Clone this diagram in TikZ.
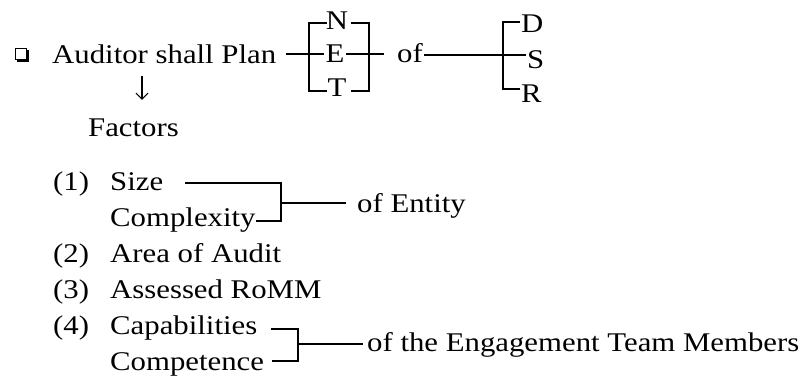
\documentclass[tikz,border=0pt]{standalone}
\usepackage{fontspec}
\setmainfont{Liberation Serif}[FakeStretch=1.14]
\usetikzlibrary{arrows.meta}
\begin{document}
\begin{tikzpicture}[x=1pt,y=-1pt,
  txt/.style={anchor=base west, inner sep=0pt, font=\fontsize{27}{32}\selectfont},
  ctxt/.style={anchor=base, inner sep=0pt, font=\fontsize{27}{32}\selectfont},
  ln/.style={line width=2.1pt, line cap=rect},
  darr/.style={line width=1.2pt, -{Straight Barb[length=6pt,width=12pt,line width=1.2pt]}}]
\useasboundingbox (0,0) rectangle (809,379);
% bullet box
\draw[line width=0.9pt] (15.5,48.5) rectangle (26,59.5);
\fill (26,50) rectangle (29,62.5);
\fill (17,59.5) rectangle (29,62.5);
% first line
\node[txt] (plan) at (52,64) {Auditor shall Plan};
\node[ctxt] (N) at (337,30) {N};
\node[ctxt] (E) at (335,63) {E};
\node[ctxt] (T) at (337,97) {T};
\node[txt] (of) at (397,63) {of};
\node[txt] (D) at (521,33) {D};
\node[txt] (S) at (527,69) {S};
\node[txt] (R) at (521,103) {R};
% NET brackets
\coordinate (l0) at (287,54);
\coordinate (lt1) at (326,23); \coordinate (lt2) at (309,23);
\coordinate (lb2) at (309,91); \coordinate (lb1) at (326,91);
\coordinate (rt1) at (352,23); \coordinate (rt2) at (369,23);
\coordinate (rb2) at (369,91); \coordinate (rb1) at (352,91);
\coordinate (r0) at (383,54);
\draw[ln] (lt1) -- (lt2) -- (lb2) -- (lb1);
\draw[ln] (rt1) -- (rt2) -- (rb2) -- (rb1);
\draw[ln] (l0) -- ([xshift=-2pt]E.west |- l0);
\draw[ln] ([xshift=2pt]E.east |- r0) -- (r0);
% DSR bracket
\coordinate (m0) at (425,55);
\coordinate (dt) at (503,22); \coordinate (db) at (503,89);
\coordinate (dD) at (519,22); \coordinate (dR) at (519,89);
\coordinate (dS) at (525,55);
\draw[ln] (dD) -- (dt) -- (db) -- (dR);
\draw[ln] (m0) -- (dS);
% arrow and Factors
\coordinate (a1) at (142,76);
\coordinate (a2) at (142,100);
\draw[darr] (a1) -- (a2);
\node[txt] (fac) at (88,137) {Factors};
% items
\node[txt] (n1) at (53,191) {(1)};
\node[txt] (size) at (110,191) {Size};
\node[txt] (cplx) at (110,227) {Complexity};
\node[txt] (ent) at (357,213) {of Entity};
\node[txt] (n2) at (53,263) {(2)};
\node[txt] (area) at (110,263) {Area of Audit};
\node[txt] (n3) at (53,299) {(3)};
\node[txt] (romm) at (110,299) {Assessed RoMM};
\node[txt] (n4) at (53,335) {(4)};
\node[txt] (cap) at (110,335) {Capabilities};
\node[txt] (comp) at (110,371) {Competence};
\node[txt] (eng) at (367,352) {of the Engagement Team Members};
% item 1 bracket
\coordinate (s1) at (186,183); \coordinate (s2) at (281,183);
\coordinate (c2) at (281,221); \coordinate (c1) at (257,221);
\coordinate (e1) at (281,203); \coordinate (e2) at (345,203);
\draw[ln] (s1) -- (s2) -- (c2) -- (c1);
\draw[ln] (e1) -- (e2);
% item 4 bracket
\coordinate (p1) at (272,329); \coordinate (p2) at (298,329);
\coordinate (q2) at (298,361); \coordinate (q1) at (273,361);
\coordinate (g1) at (298,344); \coordinate (g2) at (362,344);
\draw[ln] (p1) -- (p2) -- (q2) -- (q1);
\draw[ln] (g1) -- (g2);
\end{tikzpicture}
\end{document}
